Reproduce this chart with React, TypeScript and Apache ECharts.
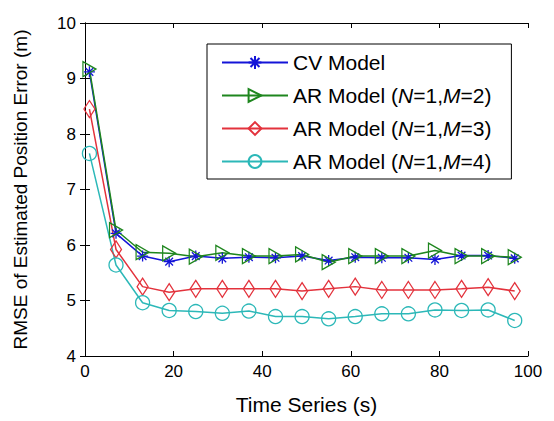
import React, { useEffect, useRef } from "react";
import * as echarts from "echarts";

// Time stamps of the evaluation points (s)
const timeSeries = [1, 7, 13, 19, 25, 31, 37, 43, 49, 55, 61, 67, 73, 79, 85, 91, 97];

// RMSE of the estimated position (m) for each model
const cvModel = [9.12, 6.21, 5.8, 5.7, 5.8, 5.76, 5.78, 5.77, 5.8, 5.72, 5.78, 5.77, 5.77, 5.74, 5.81, 5.81, 5.76];
const arModelM2 = [9.17, 6.27, 5.87, 5.85, 5.79, 5.86, 5.8, 5.8, 5.83, 5.69, 5.8, 5.8, 5.8, 5.9, 5.8, 5.8, 5.78];
const arModelM3 = [8.45, 5.92, 5.25, 5.15, 5.21, 5.21, 5.21, 5.21, 5.17, 5.21, 5.25, 5.19, 5.19, 5.19, 5.21, 5.24, 5.17];
const arModelM4 = [7.65, 5.64, 4.96, 4.82, 4.8, 4.77, 4.81, 4.71, 4.71, 4.67, 4.71, 4.76, 4.76, 4.83, 4.82, 4.83, 4.64];

const seriesNames = [
  "CV Model",
  "AR Model (N=1,M=2)",
  "AR Model (N=1,M=3)",
  "AR Model (N=1,M=4)",
];

const FONT = "'Liberation Sans', Arial, Helvetica, sans-serif";

const STAR = "path://M5,0L5,10M0,5L10,5M1.5,1.5L8.5,8.5M1.5,8.5L8.5,1.5";
const TRIANGLE_RIGHT = "path://M0,0L10,6L0,12Z";
const DIAMOND = "path://M5,0L10,8L5,16L0,8Z";

function makeSeries(
  name: string,
  values: number[],
  color: string,
  symbol: string,
  symbolSize: number | number[]
) {
  return {
    name,
    type: "line",
    data: timeSeries.map((t, i) => [t, values[i]]),
    symbol,
    symbolSize,
    showAllSymbol: true,
    lineStyle: { color, width: 1.5 },
    itemStyle: { color: "none", borderColor: color, borderWidth: 1.3 },
    emphasis: { disabled: true },
  };
}

export default function App() {
  const ref = useRef<HTMLDivElement>(null);

  useEffect(() => {
    if (!ref.current) return;
    const chart = echarts.init(ref.current, null, { renderer: "svg" });

    const axisCommon = {
      axisLine: { show: true, lineStyle: { color: "#000", width: 1 } },
      axisTick: { show: true, inside: true, length: 5, lineStyle: { color: "#000" } },
      splitLine: { show: false },
    };

    chart.setOption({
      animation: false,
      backgroundColor: "#fff",
      grid: { left: 85, right: 26, top: 23, bottom: 65 },
      legend: {
        data: seriesNames,
        orient: "vertical",
        left: 207,
        top: 44,
        padding: [8, 20, 7, 14],
        itemGap: 12,
        itemWidth: 66,
        itemHeight: 16,
        backgroundColor: "#fff",
        borderColor: "#000",
        borderWidth: 1,
        selectedMode: false,
        textStyle: {
          fontFamily: FONT,
          fontSize: 21,
          lineHeight: 20,
          color: "#000",
          rich: {
            i: { fontFamily: FONT, fontSize: 21, fontStyle: "italic", lineHeight: 20, color: "#000" },
          },
        },
        formatter: (name: string) =>
          name.replace(/\(N=1,M=(\d)\)/, "({i|N}=1,{i|M}=$1)"),
      },
      xAxis: [
        {
          type: "value",
          min: 0,
          max: 100,
          interval: 20,
          position: "bottom",
          name: "Time Series (s)",
          nameLocation: "middle",
          nameGap: 38,
          nameTextStyle: { fontFamily: FONT, fontSize: 21, color: "#000" },
          axisLabel: { fontFamily: FONT, fontSize: 17, color: "#000", margin: 7 },
          ...axisCommon,
        },
        {
          type: "value",
          min: 0,
          max: 100,
          interval: 20,
          position: "top",
          axisLabel: { show: false },
          ...axisCommon,
        },
      ],
      yAxis: [
        {
          type: "value",
          min: 4,
          max: 10,
          interval: 1,
          position: "left",
          name: "RMSE of Estimated Position Error (m)",
          nameLocation: "middle",
          nameGap: 55,
          nameTextStyle: { fontFamily: FONT, fontSize: 19, color: "#000" },
          axisLabel: { fontFamily: FONT, fontSize: 17, color: "#000", margin: 9 },
          ...axisCommon,
        },
        {
          type: "value",
          min: 4,
          max: 10,
          interval: 1,
          position: "right",
          axisLabel: { show: false },
          ...axisCommon,
        },
      ],
      series: [
        makeSeries(seriesNames[0], cvModel, "#1414d8", STAR, 11),
        makeSeries(seriesNames[1], arModelM2, "#1e861e", TRIANGLE_RIGHT, [13, 15]),
        makeSeries(seriesNames[2], arModelM3, "#e3323c", DIAMOND, [11, 17]),
        makeSeries(seriesNames[3], arModelM4, "#2cb8b8", "circle", 14),
      ],
    });

    return () => chart.dispose();
  }, []);

  return (
    <div
      ref={ref}
      style={{ position: "fixed", left: 0, top: 0, width: 554, height: 421, background: "#fff" }}
    />
  );
}
